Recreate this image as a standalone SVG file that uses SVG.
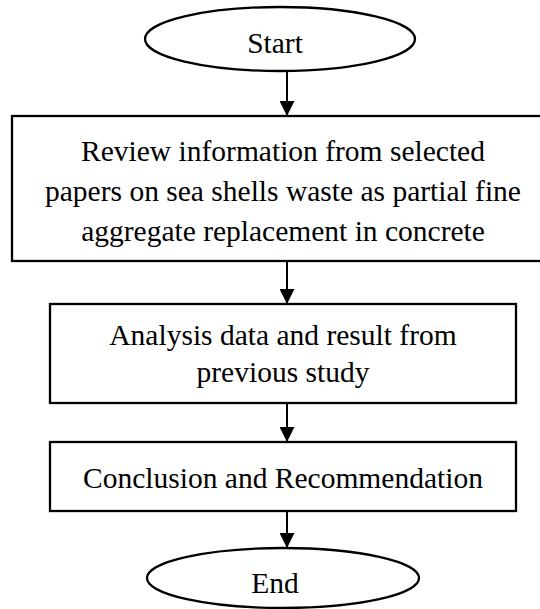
<svg xmlns="http://www.w3.org/2000/svg" width="540" height="609" viewBox="0 0 540 609">
<defs>
<marker id="ah" markerWidth="15" markerHeight="15" refX="15" refY="7.5" orient="auto" markerUnits="userSpaceOnUse">
<path d="M0,0 L15,7.5 L0,15 Z" fill="#000"/>
</marker>
<style>
.s{fill:#fff;stroke:#000;stroke-width:2.3}
.t{font-family:"Liberation Serif","Times New Roman",serif;font-size:29.5px;fill:#000;text-anchor:middle}
.c{stroke:#000;stroke-width:2;fill:none}
</style>
</defs>
<rect width="540" height="609" fill="#fff"/>
<g id="connectors">
<line class="c" x1="287" y1="71" x2="287" y2="116" marker-end="url(#ah)"/>
<line class="c" x1="287" y1="261" x2="287" y2="304" marker-end="url(#ah)"/>
<line class="c" x1="287" y1="403" x2="287" y2="442" marker-end="url(#ah)"/>
<line class="c" x1="287" y1="511" x2="287" y2="548" marker-end="url(#ah)"/>
</g>
<g id="start">
<ellipse class="s" cx="280" cy="39" rx="135" ry="32"/>
<text class="t" x="275" y="53">Start</text>
</g>
<g id="review">
<rect class="s" x="12" y="116" width="545" height="145"/>
<text class="t" x="283" y="161">Review information from selected</text>
<text class="t" x="283" y="201">papers on sea shells waste as partial fine</text>
<text class="t" x="283" y="241">aggregate replacement in concrete</text>
</g>
<g id="analysis">
<rect class="s" x="50" y="304" width="466" height="99"/>
<text class="t" x="283" y="345">Analysis data and result from</text>
<text class="t" x="283" y="382">previous study</text>
</g>
<g id="conclusion">
<rect class="s" x="50" y="442" width="466" height="69"/>
<text class="t" x="283" y="488">Conclusion and Recommendation</text>
</g>
<g id="end">
<ellipse class="s" cx="283" cy="578" rx="136" ry="30"/>
<text class="t" x="275" y="593">End</text>
</g>
</svg>
